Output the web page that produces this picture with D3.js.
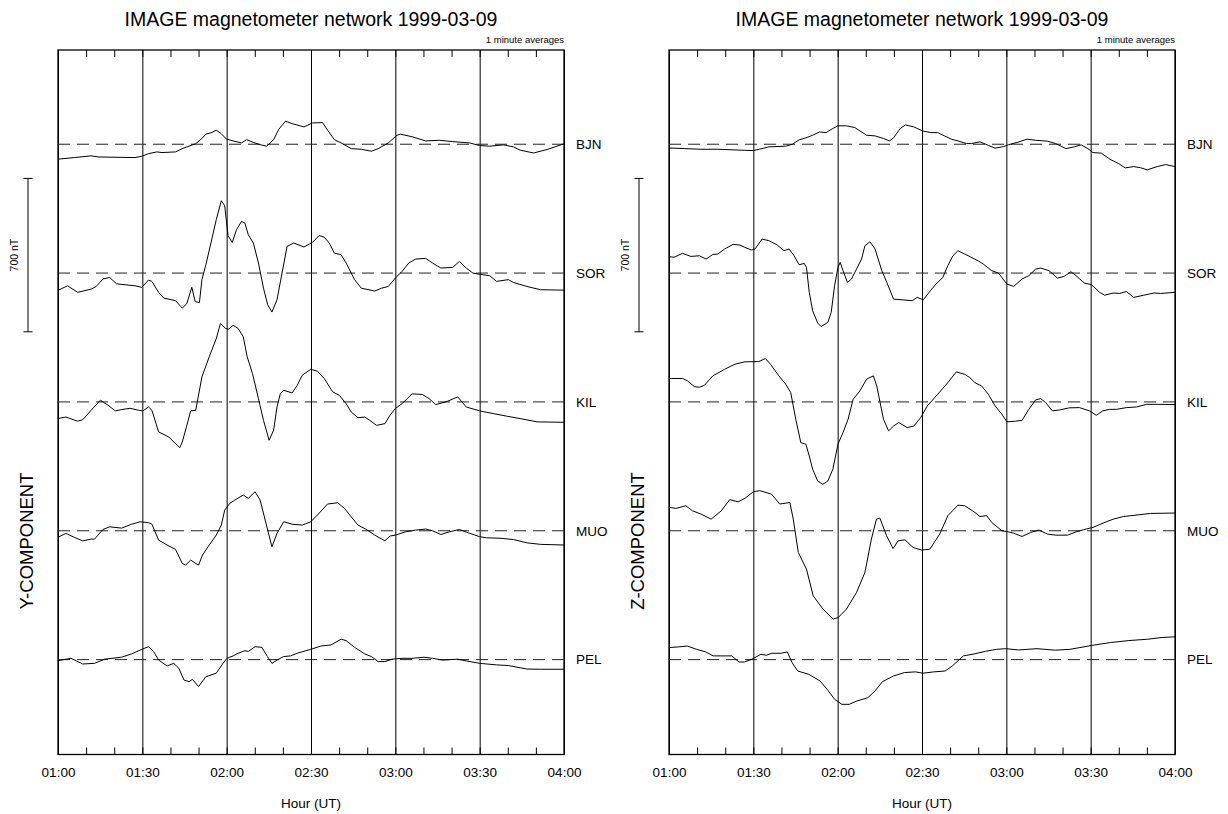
<!DOCTYPE html>
<html>
<head>
<meta charset="utf-8">
<title>IMAGE magnetometer network 1999-03-09</title>
<script src="https://cdn.jsdelivr.net/npm/d3@7"></script>
<style>
  html, body { margin: 0; padding: 0; background: #fff; }
  svg { display: block; }
  text { font-family: "Liberation Sans", Arial, Helvetica, sans-serif; fill: #000; }
</style>
</head>
<body>
<svg id="chart" width="1228" height="814"></svg>
<script>
// ---- data -------------------------------------------------------------
// Stations, top to bottom, and the two field components shown.
const stations = ["BJN", "SOR", "KIL", "MUO", "PEL"];
const components = ["Y", "Z"];
const componentTitles = ["Y-COMPONENT", "Z-COMPONENT"];
const titleText = "IMAGE magnetometer network 1999-03-09";
const noteText = "1 minute averages";
const axisTitle = "Hour (UT)";
const tickLabels = ["01:00", "01:30", "02:00", "02:30", "03:00", "03:30", "04:00"];

// Vertical separation between station baselines and the scale bar (nT).
const stationSpacingNT = 588;
const scaleBarNT = 700;
const scaleBarTopNT = -156;       // relative to the BJN baseline
const yDomainNT = [430, -2785];   // plot extent, relative to the BJN baseline

// Traces: [minutes after 01:00 UT, deviation from baseline in nT]
const yBJN = [[0,-68],[5.8,-61],[11.8,-53],[14.2,-58],[17.8,-59],[27.4,-61],[29.8,-55],[32.2,-43],[35.2,-35],[37,-38],[41.8,-35],[44.2,-20],[46.6,-9],[49,3],[50.8,21],[52.6,46],[54.4,52],[56.3,64],[58,49],[59.9,24],[62.3,15],[65.3,6],[67.1,21],[69.5,8],[71.9,-2],[74.3,-9],[76.7,21],[78.5,67],[80.9,105],[83.3,94],[87.5,79],[90.5,97],[94.1,99],[95.9,64],[98.3,21],[100.7,6],[104.3,-20],[107.9,-23],[111.5,-32],[113.9,-20],[117.5,6],[120.6,41],[121.8,46],[126,34],[130.8,15],[135.6,18],[140.4,12],[146.4,6],[150,-6],[153.6,-9],[158.4,-3],[162,-12],[164.4,-27],[169.2,-40],[174,-24],[180,2]];
const ySOR = [[0,-79],[3.4,-58],[7,-88],[11.8,-73],[13.6,-61],[16,-27],[18.4,-20],[20.8,-49],[25,-55],[27.4,-58],[29.8,-65],[32.2,-32],[33.4,-38],[35.8,-88],[37.6,-114],[41.8,-126],[44.2,-160],[45.8,-140],[47.6,-65],[48.8,-130],[50.3,-135],[51.2,-30],[52.6,38],[54.4,137],[56.3,244],[58.1,330],[59.3,307],[60.5,170],[62,140],[63.5,198],[65.3,236],[66.5,228],[67.7,175],[69.5,137],[71.3,46],[73.1,-69],[74.6,-145],[76.1,-178],[77.9,-122],[79.7,0],[81.5,122],[83.9,137],[87.5,119],[90.5,140],[92.9,171],[94.7,164],[96.5,137],[98.3,91],[100.7,84],[102.5,46],[105.5,-30],[107.9,-69],[112.7,-82],[115.1,-69],[117.5,-61],[120,-23],[122.4,8],[124.8,46],[127.2,64],[130.8,67],[133.2,46],[136.2,23],[140.4,26],[142.8,53],[145.2,23],[147.6,0],[151.2,-8],[153.6,-12],[156,-38],[160.2,-30],[162,-43],[166.8,-61],[171.6,-76],[180,-78]];
const yKIL = [[0,-76],[2.8,-69],[7,-88],[8.8,-81],[11.8,-38],[15.1,8],[17.8,-15],[20.4,-41],[22.6,-35],[25.6,-29],[28.6,-38],[30.2,-41],[32.2,-23],[33.4,-38],[35.8,-137],[39.4,-160],[41.8,-190],[43.3,-209],[44.2,-183],[45.7,-114],[47.2,-41],[49,-38],[51.2,114],[53.8,206],[56.3,289],[57.8,358],[59.6,335],[60.7,332],[62.3,350],[64.1,335],[65.9,297],[67.3,206],[69.2,129],[71.3,15],[73.1,-84],[75.1,-175],[76.7,-129],[77.9,-23],[79.1,38],[80.3,53],[83.3,41],[85.1,76],[86.9,122],[89.9,149],[92.3,140],[94.7,107],[97.7,46],[100.1,30],[102.5,-8],[104.3,-46],[106.7,-72],[109.1,-69],[110.9,-84],[113.3,-107],[116.3,-99],[118.1,-61],[120,-30],[122.4,-8],[124.2,15],[126,37],[129.6,34],[132,15],[134.4,-12],[138,0],[142.2,23],[145.2,-23],[150,-41],[154.8,-53],[159.6,-65],[164.4,-76],[170.4,-91],[180,-93]];
const yMUO = [[0,-30],[2.8,-12],[5.8,-30],[8.8,-46],[11.8,-38],[13,-38],[16,6],[18.4,18],[22.6,12],[26.2,30],[29.2,41],[32.2,37],[33.4,30],[35.8,-43],[38.8,-65],[41.8,-85],[44.2,-149],[45.4,-157],[47.2,-134],[50,-157],[51.4,-111],[53.8,-65],[56.3,-20],[58.1,26],[59.3,94],[61.1,125],[62.9,140],[65.9,163],[67.7,148],[70.1,178],[71.9,140],[73.7,49],[76.1,-73],[77.9,-12],[80.3,41],[83.3,30],[86.9,26],[89.9,41],[92.3,72],[95.9,122],[99.5,128],[101.9,102],[104.3,64],[106.7,26],[109.7,6],[112.7,-20],[116.3,-46],[118.1,-24],[120,-20],[123.6,-5],[127.2,3],[130.8,8],[133.2,0],[136.2,-17],[139.2,-5],[142.8,6],[145.2,-6],[150,-27],[152.4,-32],[157.2,-34],[162,-40],[166.8,-55],[171.6,-62],[180,-65]];
const yPEL = [[0,-5],[4.6,6],[8.8,-20],[13,-17],[16.6,2],[22.6,11],[26.2,26],[29.8,47],[32.2,59],[34,37],[35.8,-2],[38.8,-29],[41.2,-17],[43,-40],[44.8,-93],[46.6,-101],[47.8,-90],[50,-123],[52.6,-78],[56.3,-62],[58.7,-17],[60.1,6],[62.3,17],[64.1,29],[66.5,41],[67.7,37],[70.1,59],[72.5,56],[74.5,14],[76.1,-17],[77.9,-2],[80.3,14],[82.7,17],[85.1,29],[89.9,47],[93.5,62],[97.1,67],[100.7,93],[102.5,87],[105.5,56],[109.1,26],[111.5,14],[113.9,-9],[116.3,-9],[118.8,2],[122.4,6],[126,6],[130.2,11],[133.2,6],[136.8,-2],[142.2,2],[145.2,-6],[150,-17],[156,-24],[160.2,-27],[166.8,-43],[171.6,-44],[180,-44]];

const zBJN = [[0,-17],[5.4,-20],[11.4,-23],[17.4,-23],[23.4,-26],[30,-29],[33.1,-20],[35.5,-12],[41.5,-9],[43.9,0],[46.3,20],[48.7,29],[51.1,41],[53.5,56],[55.9,53],[58.3,72],[60.1,84],[63.1,84],[66.1,76],[67.9,61],[70.3,41],[73.3,38],[76.3,26],[78.5,15],[79.9,30],[82.3,72],[84.1,88],[87.1,79],[90.1,61],[93.1,53],[95.6,53],[98,38],[100.4,23],[102.8,15],[105.8,3],[107.6,3],[110.6,11],[113.6,-5],[116,-18],[119,-11],[120.8,-2],[123.8,8],[127.4,23],[130.4,18],[134.6,14],[137.6,3],[141.2,-20],[144.2,-12],[146.6,-3],[149,-20],[150.8,-38],[153.8,-41],[156.9,-69],[159.9,-88],[162.3,-108],[165.3,-102],[167.7,-107],[170.1,-117],[173.7,-102],[176.7,-93],[180,-102]];
const zSOR = [[0,75],[1.8,72],[4.8,90],[7.8,76],[10.8,79],[13.2,64],[15.6,85],[17.4,87],[19.8,110],[22.8,131],[25.2,128],[27,117],[29.4,105],[30.6,110],[33.1,155],[35.5,148],[38.5,128],[40.9,102],[42.7,110],[44.5,79],[46.3,38],[48.1,44],[48.9,26],[49.9,-88],[51.1,-172],[52.9,-228],[54.1,-244],[56.5,-225],[57.7,-180],[58.9,-58],[60.1,26],[60.9,49],[61.9,11],[63.5,-43],[64.9,-27],[66.7,18],[68.5,64],[69.7,125],[71.5,143],[73.3,110],[75.7,11],[77.5,-43],[79.9,-119],[82.9,-122],[86.5,-126],[88.3,-111],[90.5,-122],[92.5,-88],[95,-50],[97.4,-20],[99.2,34],[101,79],[102.8,102],[105.2,87],[110,56],[111.8,41],[114.8,11],[117.2,0],[120.2,-50],[122.6,-61],[125.6,-27],[128,-12],[130.4,18],[132.2,23],[135.2,11],[138.2,-23],[140.6,-15],[143,6],[144.8,-12],[147.8,-46],[150.2,-52],[153.2,-88],[155,-101],[158,-91],[160.4,-93],[162.7,-84],[165.3,-111],[168.9,-101],[172.5,-91],[174.9,-93],[180,-88]];
const zKIL = [[0,107],[4.8,107],[6.6,96],[9,70],[10.8,67],[12.6,76],[15.6,119],[19.8,149],[23.4,172],[27,183],[31.9,184],[34.3,198],[36.1,172],[39.1,119],[41.5,81],[43.3,43],[45.1,-79],[46.9,-186],[48.7,-193],[49.9,-247],[51.1,-307],[52.9,-361],[54.7,-376],[56.5,-361],[58.3,-307],[60.1,-193],[61.9,-140],[63.7,-79],[65.5,12],[67.9,50],[70.3,104],[72.7,119],[73.9,73],[76.3,-79],[78.1,-132],[79.9,-110],[81.7,-94],[84.7,-117],[87.1,-110],[89.5,-72],[91.9,-18],[95.6,35],[99.2,88],[102.2,137],[105.2,126],[107,111],[108.8,88],[111.2,73],[113.6,35],[116,-18],[118.4,-56],[120.2,-91],[123.2,-88],[125.6,-84],[128,-34],[130.4,9],[132.2,15],[134,-3],[136.4,-41],[138.8,-37],[142.4,-27],[146,-26],[149.6,-41],[152,-61],[154.3,-41],[156.7,-34],[159.1,-34],[162.7,-26],[166.3,-23],[169.9,-11],[173.7,-11],[180,-12]];
const zMUO = [[0,107],[2.4,102],[6,114],[8.4,91],[11.4,76],[15,53],[18.6,91],[21.6,142],[24.6,132],[27,148],[30,178],[32.3,183],[36.5,167],[39.4,122],[43,129],[44.2,53],[46,-99],[48.9,-175],[51.3,-297],[54.8,-358],[58.4,-403],[60.2,-396],[63.1,-358],[66.7,-282],[69.7,-190],[72,-38],[73.8,53],[75,58],[77.4,-23],[79.7,-81],[81.5,-46],[83.9,-41],[86.8,-76],[89.8,-88],[92.8,-84],[96.3,-15],[99.2,69],[102.8,117],[105.2,114],[108.8,84],[110.6,65],[113,69],[114.8,38],[118.4,0],[120.8,-5],[122.6,-11],[125.6,-26],[128.6,-8],[131.6,3],[134.6,-15],[137.6,-20],[141.8,-20],[144.8,-5],[148.4,8],[150.8,15],[154.4,35],[158,53],[161.7,65],[166.5,72],[171.3,79],[180,81]];
const zPEL = [[0,55],[3.3,58],[6.5,62],[9.8,47],[13.1,35],[15.7,17],[19.6,17],[22.3,17],[24.9,-11],[26.8,-11],[29.5,2],[32.7,24],[34.7,20],[36.6,29],[39.9,29],[42.1,35],[43.8,-14],[45.8,-52],[49.7,-67],[53.7,-97],[56.3,-136],[58.9,-181],[61.5,-204],[64.1,-204],[66.8,-189],[70.7,-174],[73.3,-143],[75.9,-101],[79.8,-75],[83.8,-59],[87.7,-56],[90.3,-62],[94.2,-56],[98.2,-52],[100.8,-29],[104.7,17],[108.6,26],[112.6,38],[116.5,47],[119.8,50],[124.3,44],[130.9,50],[137.4,43],[142.7,47],[150.5,65],[157.1,78],[163.6,87],[170.2,93],[175.4,101],[180,104]];

const traces = {
  Y: [yBJN, ySOR, yKIL, yMUO, yPEL],
  Z: [zBJN, zSOR, zKIL, zMUO, zPEL]
};

// ---- layout -----------------------------------------------------------
const panelLeft = [58, 669];
const panelWidth = 506;
const plotTop = 50;
const plotBottom = 754.5;

const svg = d3.select("#chart");
const t0 = Date.UTC(1999, 2, 9, 1, 0);
const toTime = m => new Date(t0 + m * 60000);
const timeStart = toTime(0), timeEnd = toTime(180);

const y = d3.scaleLinear().domain(yDomainNT).range([plotTop, plotBottom]);
const offsetNT = i => -i * stationSpacingNT;

components.forEach((comp, pi) => {
  const x0 = panelLeft[pi];
  const x = d3.scaleUtc().domain([timeStart, timeEnd]).range([x0, x0 + panelWidth]);
  const g = svg.append("g").attr("class", "panel-" + comp);

  // half-hour grid lines across the full height
  const gridAxis = d3.axisBottom(x)
    .ticks(d3.utcMinute.every(30))
    .tickSize(-(plotBottom - plotTop))
    .tickFormat("");
  g.append("g")
    .attr("transform", `translate(0,${plotBottom})`)
    .call(gridAxis)
    .call(s => s.select(".domain").remove())
    .call(s => s.selectAll("line").attr("stroke", "#000").attr("stroke-width", 1));

  // ten-minute ticks pointing inwards, bottom and top
  const minorBottom = d3.axisBottom(x).ticks(d3.utcMinute.every(10)).tickSize(-7).tickFormat("");
  const minorTop = d3.axisTop(x).ticks(d3.utcMinute.every(10)).tickSize(-7).tickFormat("");
  g.append("g").attr("transform", `translate(0,${plotBottom})`).call(minorBottom)
    .call(s => s.select(".domain").remove())
    .call(s => s.selectAll("line").attr("stroke", "#000"));
  g.append("g").attr("transform", `translate(0,${plotTop})`).call(minorTop)
    .call(s => s.select(".domain").remove())
    .call(s => s.selectAll("line").attr("stroke", "#000"));

  // hour labels
  const labelAxis = d3.axisBottom(x)
    .tickValues(tickLabels.map((_, i) => toTime(i * 30)))
    .tickFormat((d, i) => tickLabels[i])
    .tickSize(0)
    .tickPadding(12.5);
  g.append("g").attr("transform", `translate(0,${plotBottom})`).call(labelAxis)
    .call(s => s.select(".domain").remove())
    .call(s => s.selectAll("text")
      .attr("font-size", 13.5)
      .attr("font-family", "'Liberation Sans', Arial, sans-serif")
      .attr("fill", "#000"));

  // frame
  g.append("rect")
    .attr("x", x0).attr("y", plotTop)
    .attr("width", panelWidth).attr("height", plotBottom - plotTop)
    .attr("fill", "none").attr("stroke", "#000").attr("stroke-width", 1.3);

  // station baselines
  g.selectAll("line.baseline")
    .data(stations)
    .join("line")
    .attr("class", "baseline")
    .attr("x1", x0).attr("x2", x0 + panelWidth)
    .attr("y1", (d, i) => y(offsetNT(i)))
    .attr("y2", (d, i) => y(offsetNT(i)))
    .attr("stroke", "#222")
    .attr("stroke-width", 1)
    .attr("stroke-dasharray", "12,7");

  // station traces
  traces[comp].forEach((series, i) => {
    const line = d3.line()
      .x(d => x(toTime(d[0])))
      .y(d => y(offsetNT(i) + d[1]));
    g.append("path")
      .datum(series)
      .attr("d", line)
      .attr("fill", "none")
      .attr("stroke", "#000")
      .attr("stroke-width", 1)
      .attr("stroke-linejoin", "round");
  });

  // station names at the right
  g.selectAll("text.station")
    .data(stations)
    .join("text")
    .attr("class", "station")
    .attr("x", x0 + panelWidth + 12)
    .attr("y", (d, i) => y(offsetNT(i)) + 4.8)
    .attr("font-size", 13.5)
    .text(d => d);

  // 700 nT scale bar
  const barX = x0 - 30;
  const yb1 = y(scaleBarTopNT), yb2 = y(scaleBarTopNT - scaleBarNT);
  const bar = g.append("g").attr("stroke", "#000").attr("stroke-width", 1);
  bar.append("line").attr("x1", barX).attr("x2", barX).attr("y1", yb1).attr("y2", yb2);
  bar.append("line").attr("x1", barX - 4.5).attr("x2", barX + 4.5).attr("y1", yb1).attr("y2", yb1);
  bar.append("line").attr("x1", barX - 4.5).attr("x2", barX + 4.5).attr("y1", yb2).attr("y2", yb2);
  g.append("text")
    .attr("transform", `translate(${x0 - 40.5},${(yb1 + yb2) / 2}) rotate(-90)`)
    .attr("text-anchor", "middle")
    .attr("font-size", 10.5)
    .text(scaleBarNT + " nT");

  // component name
  g.append("text")
    .attr("transform", `translate(${x0 - 25},${541}) rotate(-90)`)
    .attr("text-anchor", "middle")
    .attr("font-size", 18.5)
    .text(componentTitles[pi]);

  // titles
  g.append("text")
    .attr("x", x0 + panelWidth / 2).attr("y", 26)
    .attr("text-anchor", "middle")
    .attr("font-size", 19.5)
    .text(titleText);
  g.append("text")
    .attr("x", x0 + panelWidth).attr("y", 43)
    .attr("text-anchor", "end")
    .attr("font-size", 9.5)
    .text(noteText);
  g.append("text")
    .attr("x", x0 + panelWidth / 2).attr("y", 807.5)
    .attr("text-anchor", "middle")
    .attr("font-size", 13.5)
    .text(axisTitle);
});
</script>
</body>
</html>
